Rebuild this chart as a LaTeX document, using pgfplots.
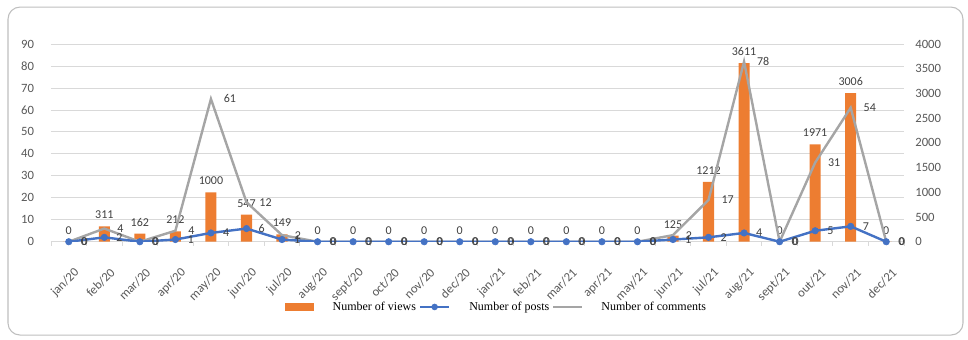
\documentclass[border=0pt]{standalone}
\usepackage{pgfplots}
\pgfplotsset{compat=1.18}
\usepackage{pgfplotstable}
\usepackage{fontspec}
\setmainfont{Carlito}
\newfontfamily\legfont{Liberation Serif}

\definecolor{cOr}{HTML}{ED7D31}
\definecolor{cBl}{HTML}{4472C4}
\definecolor{cGr}{HTML}{A5A5A5}
\definecolor{cGrid}{HTML}{D9D9D9}
\definecolor{cTick}{HTML}{595959}
\definecolor{cLab}{HTML}{404040}
\definecolor{cFrame}{HTML}{BFBFBF}

\pgfplotstableread{
x views posts comments
0 0 0 0
1 311 2 4
2 162 0 0
3 212 1 4
4 1000 4 61
5 547 6 12
6 149 1 2
7 0 0 0
8 0 0 0
9 0 0 0
10 0 0 0
11 0 0 0
12 0 0 0
13 0 0 0
14 0 0 0
15 0 0 0
16 0 0 0
17 125 1 2
18 1212 2 17
19 3611 4 78
20 0 0 0
21 1971 5 31
22 3006 7 54
23 0 0 0
}\data

\pgfplotsset{
  /pgf/number format/assume math mode=true,
  /pgf/number format/1000 sep={},
  base/.style={
    scale only axis, width=639.75pt, height=148.3pt,
    xmin=-0.5, xmax=23.5,
    at={(0,0)}, anchor=south west,
    scaled y ticks=false,
    tick label style={font=\fontsize{9.5}{11}\selectfont, color=cTick},
  },
  postleg/.style={legend image code/.code={\draw[##1] (0cm,0cm) -- (0.78cm,0cm); \draw[##1, mark=*, mark size=2.2pt] plot coordinates {(0.39cm,0cm)};}},
  lineleg/.style={legend image code/.code={\draw[##1] (0cm,0cm) -- (0.75cm,0cm);}},
  barleg/.style={legend image code/.code={\fill[cOr] (0pt,-2.6pt) rectangle (21pt,2.6pt);}},
  lab/.style={every node near coord/.append style={font=\fontsize{9}{10}\selectfont, color=cLab, #1}},
}

\begin{document}
\begin{tikzpicture}
\useasboundingbox (-38.25pt,-72.98pt) rectangle (687.75pt,181.3pt);
\draw[cFrame, line width=0.8pt, rounded corners=9pt] (-32.25pt,-69.98pt) rectangle (684pt,176pt);

% grid and left axis, x labels
\begin{axis}[base,
  ymin=0, ymax=90, ytick={0,10,...,90},
  ymajorgrids, grid style={cGrid, line width=0.6pt},
  axis x line*=bottom, axis y line*=left,
  y axis line style={draw=none},
  x axis line style={draw=cGrid, line width=0.7pt},
  ytick style={draw=none},
  xtick={0,...,23},
  xticklabels={jan/20,feb/20,mar/20,apr/20,may/20,jun/20,jul/20,aug/20,sept/20,oct/20,nov/20,dec/20,jan/21,feb/21,mar/21,apr/21,may/21,jun/21,jul/21,aug/21,sept/21,out/21,nov/21,dec/21},
  major x tick style={draw=none},
  minor xtick={-0.5,0.5,...,23.5},
  minor x tick style={draw=cGrid, line width=0.7pt},
  minor tick length=3pt, tick align=outside, xtick pos=bottom,
  yticklabel style={xshift=-5pt},
  xticklabel style={xshift=8.75pt, yshift=-15pt, rotate=45, anchor=east},
]
\end{axis}

% bars, right axis
\begin{axis}[base,
  ymin=0, ymax=4000, ytick={0,500,...,4000},
  axis x line=none, axis y line*=right,
  y axis line style={draw=none}, ytick style={draw=none},
  yticklabel style={xshift=5pt},
  ybar, bar width=8.3pt, bar shift=0pt,
]
\addplot[fill=cOr, draw=none, nodes near coords, lab={yshift=2pt}]
  table[x=x, y=views] {\data};
\end{axis}

% lines
\begin{axis}[base,
  ymin=0, ymax=90, hide axis,
  legend style={at={(0.523,-0.33)}, anchor=center, draw=none, fill=none,
    legend columns=3, font=\legfont\fontsize{9}{11}\selectfont,
    /tikz/every odd column/.append style={column sep=12pt}},
  legend entries={Number of views, Number of posts, Number of comments},
]
\addlegendimage{barleg}
\addplot[cGr, line width=1.8pt, mark=none,
  point meta=\thisrow{comments},
  nodes near coords, lab={anchor=west, xshift=5.5pt},
  forget plot]
  table[x=x, y expr=\thisrow{posts}+\thisrow{comments}] {\data};
\addplot[cBl, line width=1.8pt, mark=*, mark size=2.4pt,
  mark options={fill=cBl, draw=cBl, line width=0.5pt},
  nodes near coords, lab={anchor=west, xshift=5.5pt}, postleg]
  table[x=x, y=posts] {\data};
\addlegendimage{cGr, line width=1.8pt, lineleg}
\end{axis}
\end{tikzpicture}
\end{document}
